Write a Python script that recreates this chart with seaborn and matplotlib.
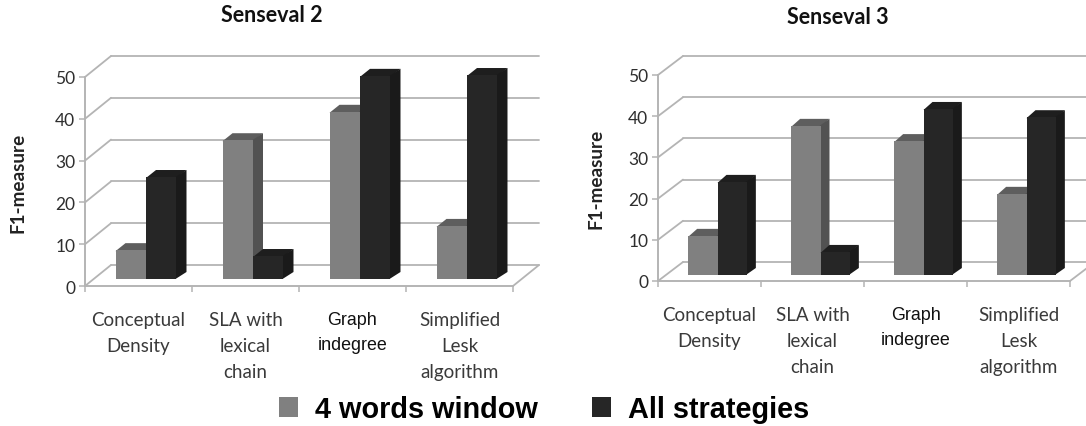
import matplotlib
matplotlib.use("Agg")
import matplotlib.pyplot as plt
import pandas as pd
import seaborn as sns
from matplotlib.patches import Polygon

methods = ["Conceptual\nDensity", "SLA with\nlexical\nchain", "Graph\nindegree", "Simplified\nLesk\nalgorithm"]
series_names = ["4 words window", "All strategies"]
senseval2_window = [6.9, 33.2, 40.0, 12.7]
senseval2_all = [24.4, 5.5, 48.6, 48.8]
senseval3_window = [9.5, 36.2, 32.5, 19.7]
senseval3_all = [22.6, 5.6, 40.3, 38.3]
y_ticks = [0, 10, 20, 30, 40, 50]

W, H = 1086, 427
GRID = "#b4b4b4"
TEXT = "#3a3a3a"
FACE = {series_names[0]: "#808080", series_names[1]: "#262626"}
SIDE = {series_names[0]: "#525252", series_names[1]: "#1a1a1a"}
TOP = {series_names[0]: "#5e5e5e", series_names[1]: "#1e1e1e"}

sns.set_style("white")
plt.rcParams["font.family"] = ["Lato", "DejaVu Sans"]
fig = plt.figure(figsize=(W / 100, H / 100), dpi=100, facecolor="white")


def panel(rect_px, title, title_xy, window, every, wall, lift_px, depth, bar_shift_px, ylabel_x):
    left, right, y0, y50 = rect_px
    ax = fig.add_axes([left / W, (H - y0) / H, (right - left) / W, (y0 - y50) / H])
    step = (right - left) / 4
    unit = (y0 - y50) / 50
    frame = pd.DataFrame({
        "method": methods * 2,
        "series": [series_names[0]] * 4 + [series_names[1]] * 4,
        "f1": list(window) + list(every),
    })
    sns.barplot(data=frame, x="method", y="f1", hue="series", palette=FACE, saturation=1,
                width=0.57, gap=0, legend=False, ax=ax, linewidth=0)

    # the bars sit a little right of the middle of each category slot
    shift = bar_shift_px / step
    xlo = -0.5 - shift
    xhi = xlo + 4
    ax.set_xlim(xlo, xhi)
    ax.set_ylim(0, 50)

    # receding wall and floor lines
    wx, wy = wall[0] / step, wall[1] / unit
    for v in y_ticks:
        ax.plot([xlo + wx, xhi + wx], [v + wy, v + wy], color=GRID, lw=1.3, clip_on=False, zorder=1)
        ax.plot([xlo, xlo + wx], [v, v + wy], color=GRID, lw=1.3, clip_on=False, zorder=1)
    ax.plot([xhi, xhi + wx], [0, wy], color=GRID, lw=1.3, clip_on=False, zorder=1)

    # raise the bars onto the floor and extrude them
    lift = lift_px / unit
    dx, dy = depth[0] / step, depth[1] / unit
    seam_x, seam_y = 1 / step, 1 / unit
    for name, container, base_z in zip(series_names, ax.containers, (3.0, 4.0)):
        for bar in container:
            bar.set_y(lift)
            bar.set_zorder(base_z + 0.5)
            bar.set_clip_on(False)
            x0, x1 = bar.get_x(), bar.get_x() + bar.get_width()
            y1 = lift + bar.get_height()
            ax.add_patch(Polygon([(x1 - seam_x, lift), (x1 + dx, lift + dy), (x1 + dx, y1 + dy), (x1 - seam_x, y1)],
                                 facecolor=SIDE[name], edgecolor="none", zorder=base_z + 0.1, clip_on=False))
            ax.add_patch(Polygon([(x0, y1 - seam_y), (x0 + dx, y1 + dy), (x1 + dx, y1 + dy), (x1, y1 - seam_y)],
                                 facecolor=TOP[name], edgecolor="none", zorder=base_z, clip_on=False))

    for side in ("top", "right"):
        ax.spines[side].set_visible(False)
    for side in ("left", "bottom"):
        ax.spines[side].set_color(GRID)
        ax.spines[side].set_linewidth(1.4)
        ax.spines[side].set_zorder(2)

    ax.set_yticks(y_ticks)
    ax.tick_params(axis="y", left=True, length=4, width=1.1, color=GRID, pad=3,
                   labelsize=12.5, labelcolor="#2e2e2e")
    ax.set_xticks([xlo + i for i in range(5)], minor=True)
    ax.tick_params(axis="x", which="minor", bottom=True, length=4, width=1.1, color=GRID)
    ax.set_xticks([xlo + 0.5 + i for i in range(4)], methods)
    ax.tick_params(axis="x", which="major", bottom=False, length=0, pad=18, labelsize=13.5, labelcolor=TEXT)
    for lab in ax.get_xticklabels():
        lab.set_linespacing(1.65)
        lab.set_verticalalignment("top")
        if lab.get_text().startswith("Graph"):
            lab.set_family("Liberation Sans")
            lab.set_fontsize(12.9)
            lab.set_color("#111111")
            lab.set_linespacing(1.6)
    ax.set_xlabel("")
    ax.set_ylabel("")
    fig.text(ylabel_x / W, 1 - (y0 + y50) / 2 / H, "F1-measure", rotation=90, ha="center", va="center",
             fontsize=13.6, fontweight="bold", color="#222222")
    fig.text(title_xy[0] / W, 1 - title_xy[1] / H, title, ha="center", va="center",
             fontsize=15.5, fontweight="bold", color="#111111")
    return ax


ax_left = panel((85, 513, 287, 78), "Senseval 2", (271.5, 16), senseval2_window, senseval2_all,
                (26, 21), 7, (10, 7), 7.5, 18)
ax_right = panel((658, 1070, 282, 76), "Senseval 3", (838, 17), senseval3_window, senseval3_all,
                 (25, 19), 6, (9, 7), 8, 596)

handles = [ax_left.containers[0][0], ax_left.containers[1][0]]
fig.legend(handles, series_names, loc="center", bbox_to_anchor=(544 / W, 1 - 410 / H), ncol=2, frameon=False,
           prop={"family": "Liberation Sans", "weight": "bold", "size": 20.8},
           handlelength=0.66, handleheight=0.66, handletextpad=0.6, columnspacing=1.85, borderpad=0, labelcolor="black")

fig.savefig("out.png", dpi=100)
